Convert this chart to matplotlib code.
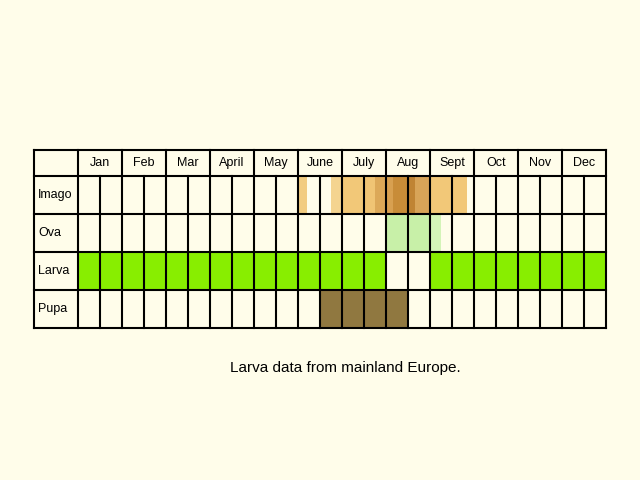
import matplotlib
matplotlib.use('Agg')
from matplotlib import pyplot as plt
from matplotlib.patches import Rectangle

months = ['Jan', 'Feb', 'Mar', 'April', 'May', 'June', 'July', 'Aug', 'Sept', 'Oct', 'Nov', 'Dec']
stages = ['Imago', 'Ova', 'Larva', 'Pupa']

# segments in half-month cell units: (start, end, colour)
imago_segs = [(10, 10.4, '#f2cc80'), (11.5, 12, '#f4d490'), (12, 13, '#f2c878'),
              (13, 13.5, '#f0c474'), (13.5, 14, '#dca858'), (14, 14.3, '#d8a050'),
              (14.3, 15, '#c88c38'), (15, 15.3, '#c08434'), (15.3, 16, '#d8a458'),
              (16, 17, '#f2c878'), (17, 17.7, '#f2c878')]
ova_segs = [(14, 16, '#c8f0a8'), (16, 16.5, '#d4f4b8')]
larva_segs = [(0, 14, '#88ee00'), (16, 24, '#88ee00')]
pupa_segs = [(11, 15, '#907840')]

bg = '#fffdea'
fig = plt.figure(figsize=(6.4, 4.8), dpi=100, facecolor=bg)
ax = fig.add_axes([0, 0, 1, 1])
ax.set_xlim(0, 640)
ax.set_ylim(480, 0)
ax.axis('off')

x0, lab_w, cw = 34, 44, 22
top, head_h, rh = 150, 26, 38
gx = x0 + lab_w

for r, segs in enumerate([imago_segs, ova_segs, larva_segs, pupa_segs]):
    y = top + head_h + r * rh
    for s, e, c in segs:
        ax.add_patch(Rectangle((gx + s * cw, y), (e - s) * cw, rh, color=c, lw=0))

bottom = top + head_h + 4 * rh
right = gx + 24 * cw
lw = 1.5
# horizontal lines
for yy in [top, top + head_h] + [top + head_h + i * rh for i in range(1, 5)]:
    ax.plot([x0, right], [yy, yy], color='k', lw=lw)
# vertical lines
ax.plot([x0, x0], [top, bottom], color='k', lw=lw)
for i in range(25):
    xx = gx + i * cw
    y_start = top if i % 2 == 0 else top + head_h
    ax.plot([xx, xx], [y_start, bottom], color='k', lw=lw)

for i, m in enumerate(months):
    ax.text(gx + (2 * i + 1) * cw, top + head_h / 2, m, ha='center', va='center', fontsize=9,
            family='Liberation Sans')
for r, s in enumerate(stages):
    ax.text(x0 + 4, top + head_h + (r + 0.5) * rh, s, ha='left', va='center', fontsize=9,
            family='Liberation Sans')

ax.text(345, 368, 'Larva data from mainland Europe.', ha='center', va='center', fontsize=11,
        family='Liberation Sans')

fig.savefig('out.png', dpi=100, facecolor=bg)
